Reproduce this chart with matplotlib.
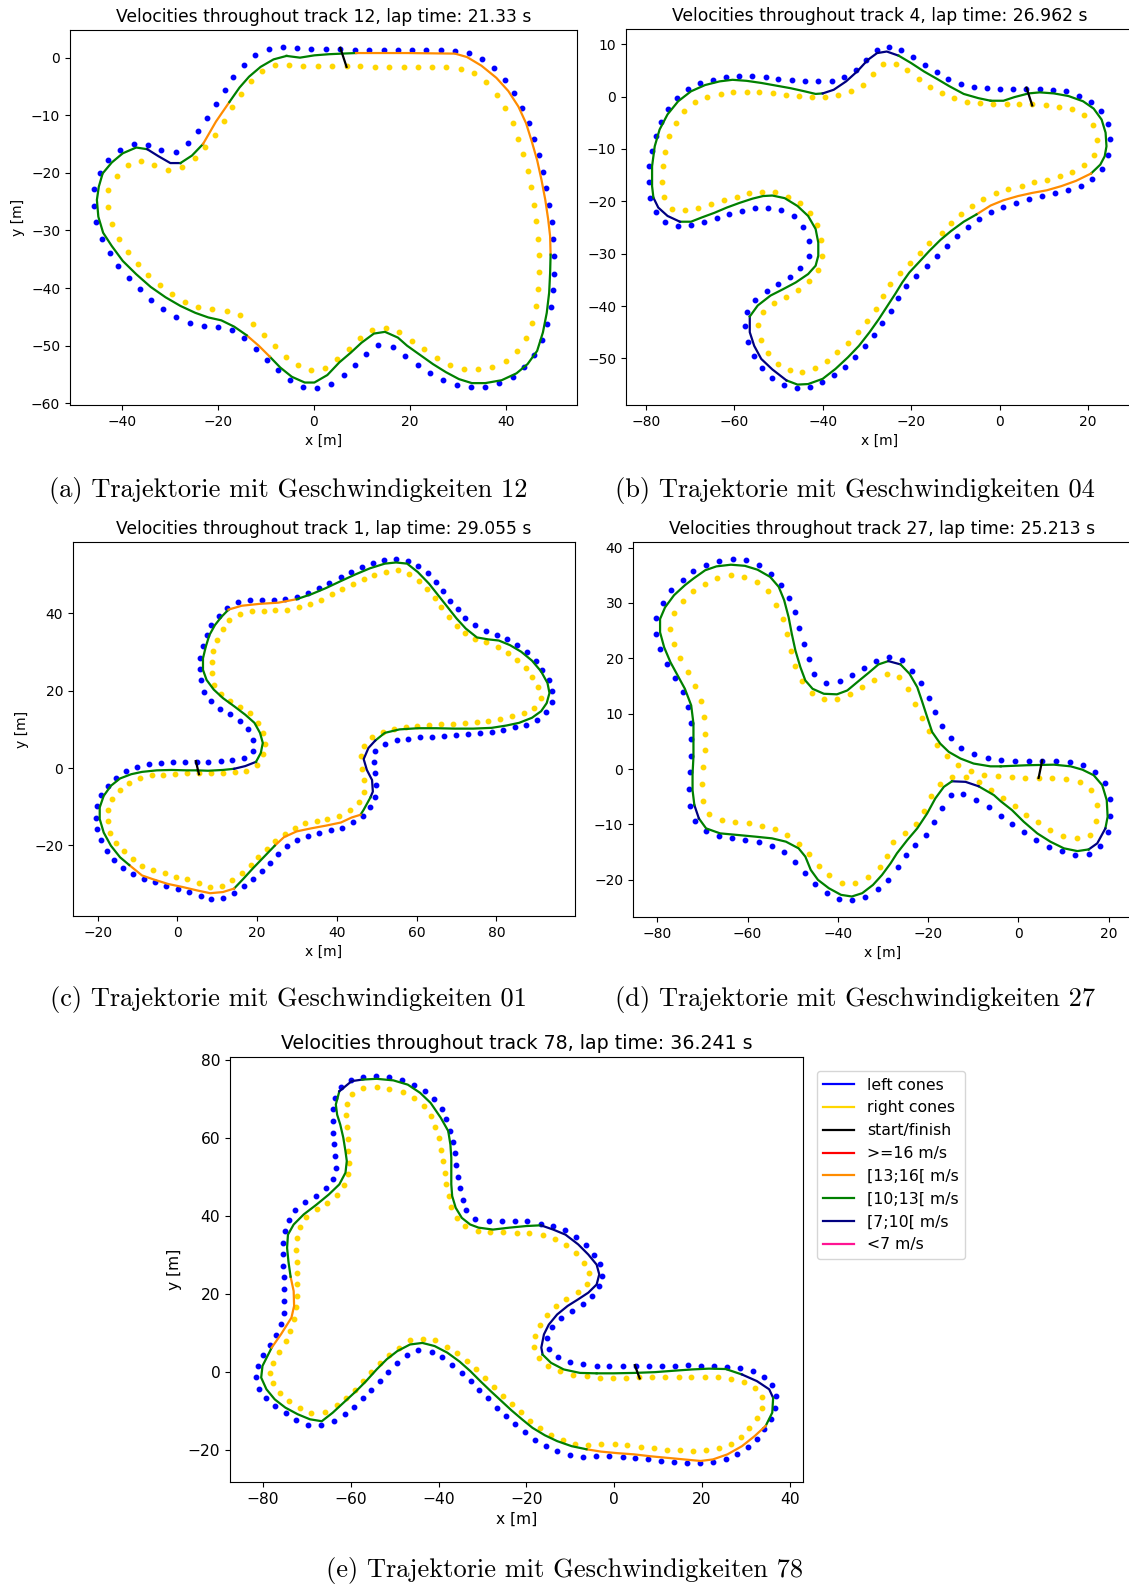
import matplotlib.pyplot as plt
from matplotlib.lines import Line2D

# ---------------- track 12 ----------------
t12_left = [(-9.4, 1.5), (-6.4, 1.8), (-3.5, 1.7), (-0.5, 1.5), (2.6, 1.5), (5.5, 1.5), (8.5, 1.4), (11.4, 1.4),
            (14.5, 1.4), (17.5, 1.3), (20.4, 1.3), (23.4, 1.3), (26.4, 1.3), (29.4, 1.2), (32.4, 0.8), (35.0, -0.3),
            (37.6, -1.8), (39.8, -3.9), (41.7, -6.2), (43.3, -8.7), (44.7, -11.4), (45.8, -14.1), (46.9, -16.9),
            (47.7, -19.8), (48.4, -22.7), (49.0, -25.6), (49.5, -28.5), (49.8, -31.5), (50.0, -34.5), (50.0, -37.5),
            (49.8, -40.4), (49.3, -43.3), (48.6, -46.2), (47.5, -49.0), (45.8, -51.6), (43.7, -53.7), (41.4, -55.4),
            (38.6, -56.5), (35.7, -57.1), (32.7, -57.1), (29.8, -56.8), (26.9, -56.0), (24.1, -54.8), (21.6, -53.4),
            (19.0, -51.8), (16.4, -50.3), (13.4, -49.9), (10.9, -51.4), (8.6, -53.3), (6.3, -55.1), (3.6, -56.7),
            (0.7, -57.4), (-2.2, -57.1), (-4.9, -55.9), (-7.5, -54.2), (-9.8, -52.5), (-12.1, -50.6), (-14.5, -48.7),
            (-17.1, -47.3), (-20.0, -46.8), (-22.9, -46.6), (-25.8, -46.0), (-28.7, -45.0), (-31.4, -43.6),
            (-33.9, -42.0), (-36.3, -40.2), (-38.6, -38.3), (-40.7, -36.1), (-42.5, -33.9), (-44.2, -31.4),
            (-45.3, -28.6), (-45.9, -25.8), (-45.9, -22.8), (-44.6, -20.1), (-42.8, -17.8), (-40.3, -16.0),
            (-37.5, -15.0), (-34.6, -15.2), (-31.8, -16.1), (-28.8, -16.4), (-26.2, -14.9), (-24.1, -12.7),
            (-22.2, -10.5), (-20.3, -8.1), (-18.6, -5.7), (-16.8, -3.4), (-14.6, -1.3), (-12.2, 0.5)]
t12_right = [(-8.1, -1.3), (-5.1, -1.2), (-2.2, -1.5), (0.9, -1.5), (3.8, -1.5), (6.8, -1.5), (9.7, -1.5), (12.8, -1.6),
             (15.7, -1.7), (18.7, -1.7), (21.7, -1.7), (24.7, -1.7), (27.6, -1.7), (30.6, -1.9), (33.4, -2.7),
             (35.9, -4.3), (38.1, -6.4), (39.8, -8.8), (41.4, -11.4), (42.5, -14.1), (43.6, -16.8), (44.5, -19.7),
             (45.2, -22.5), (45.9, -25.5), (46.2, -28.4), (46.7, -31.4), (46.9, -34.3), (46.9, -37.2), (46.7, -40.2),
             (46.2, -43.1), (45.4, -46.0), (44.2, -48.6), (42.4, -50.9), (40.0, -52.7), (37.1, -53.7), (34.2, -54.1),
             (31.2, -54.0), (28.3, -53.3), (25.6, -52.2), (23.0, -50.6), (20.5, -49.2), (17.8, -47.7), (15.1, -46.9),
             (12.2, -47.3), (9.7, -48.6), (7.3, -50.5), (4.8, -52.3), (2.3, -53.9), (-0.5, -54.3), (-3.3, -53.4),
             (-5.8, -51.9), (-8.0, -50.0), (-10.4, -48.1), (-12.7, -46.2), (-15.3, -44.6), (-18.2, -44.0),
             (-21.2, -43.7), (-24.1, -43.3), (-26.9, -42.4), (-29.6, -41.1), (-32.1, -39.5), (-34.5, -37.8),
             (-36.7, -35.9), (-38.8, -33.7), (-40.6, -31.4), (-42.0, -28.8), (-42.9, -25.9), (-42.9, -23.0),
             (-41.1, -20.5), (-38.8, -18.6), (-36.0, -17.9), (-33.2, -18.7), (-30.3, -19.5), (-27.5, -19.0),
             (-24.8, -17.5), (-22.6, -15.5), (-20.6, -13.4), (-18.8, -11.0), (-17.0, -8.6), (-15.2, -6.3),
             (-13.2, -4.1), (-10.9, -2.3)]
t12_line = [(-5.7, 0.3), (-2.9, 0.0), (0.1, 0.4), (3.2, 0.6), (5.9, 0.7), (8.8, 0.8), (19.4, 0.8), (29.4, 0.7),
            (31.9, 0.1), (34.9, -1.4), (38.0, -3.5), (40.5, -5.8), (42.6, -8.5), (44.2, -11.4), (45.4, -14.6),
            (46.5, -17.8), (47.4, -21.2), (48.2, -24.7), (48.8, -28.1), (49.2, -31.0), (49.3, -34.2), (49.2, -37.4),
            (49.0, -40.8), (48.5, -44.3), (47.7, -47.7), (46.5, -50.9), (44.5, -53.2), (42.2, -54.8), (39.1, -56.0),
            (35.7, -56.5), (32.9, -56.5), (30.2, -55.8), (27.5, -54.6), (24.8, -53.2), (22.1, -51.6), (19.4, -50.0),
            (17.5, -48.6), (14.8, -47.6), (12.5, -47.9), (9.9, -49.5), (7.7, -51.2), (5.3, -52.9), (2.8, -55.1),
            (0.1, -56.4), (-1.9, -56.4), (-4.6, -55.4), (-7.0, -53.8), (-9.2, -51.9), (-11.5, -50.0), (-14.0, -48.2),
            (-16.6, -46.7), (-19.3, -45.6), (-22.0, -45.1), (-24.7, -44.3), (-27.8, -43.1), (-30.9, -41.6),
            (-34.0, -39.8), (-37.0, -37.6), (-39.8, -35.3), (-42.1, -32.7), (-43.9, -30.4), (-44.9, -27.6),
            (-45.2, -24.7), (-44.8, -22.4), (-44.0, -20.1), (-42.1, -18.2), (-39.8, -16.6), (-37.0, -15.6),
            (-34.7, -15.9), (-32.4, -17.1), (-29.9, -18.3), (-27.8, -18.3), (-25.4, -17.0), (-23.1, -15.0),
            (-20.4, -11.1), (-17.6, -7.7), (-15.5, -5.2), (-13.5, -3.3), (-11.1, -1.6), (-8.4, -0.3)]
t12_speed = [("g", 5), ("o", 15), ("g", 27), ("o", 2), ("g", 19), ("n", 3), ("g", 2), ("o", 2), ("g", 5)]
t12_start = [(5.5, 1.7), (6.8, -1.6)]

# ---------------- track 4 ----------------
t4_left = [(-79.2, -16.3), (-79.2, -13.3), (-78.7, -10.4), (-77.8, -7.6), (-76.5, -4.9), (-75.1, -2.3), (-72.9, -0.2),
           (-70.4, 1.5), (-67.7, 2.5), (-64.8, 3.2), (-61.8, 3.7), (-58.9, 3.9), (-55.9, 3.9), (-52.9, 3.7),
           (-50.0, 3.4), (-47.0, 3.2), (-44.0, 3.0), (-41.0, 2.9), (-38.0, 3.0), (-35.1, 3.7), (-32.5, 5.0),
           (-30.2, 6.9), (-27.7, 8.8), (-25.0, 9.5), (-22.2, 8.9), (-19.5, 7.6), (-16.8, 6.0), (-14.2, 4.6),
           (-11.6, 3.4), (-8.7, 2.4), (-5.8, 1.8), (-2.9, 1.6), (0.2, 1.5), (3.1, 1.5), (6.1, 1.5), (9.1, 1.5),
           (12.0, 1.3), (15.0, 1.0), (17.9, 0.2), (20.7, -1.0), (23.0, -2.8), (24.5, -5.3), (25.0, -8.2),
           (24.6, -11.2), (23.2, -13.8), (21.0, -15.7), (18.4, -17.0), (15.5, -17.8), (12.5, -18.5), (9.6, -19.0),
           (6.7, -19.6), (3.8, -20.3), (0.9, -21.0), (-1.9, -22.0), (-4.6, -23.4), (-7.2, -25.0), (-9.6, -26.7),
           (-11.9, -28.5), (-14.2, -30.4), (-16.5, -32.3), (-18.8, -34.2), (-21.2, -36.1), (-22.9, -38.4),
           (-24.5, -40.9), (-26.5, -43.2), (-28.5, -45.5), (-30.5, -47.7), (-32.6, -49.7), (-34.9, -51.6),
           (-37.4, -53.1), (-40.1, -54.5), (-42.9, -55.4), (-45.9, -55.6), (-48.8, -55.0), (-51.5, -53.7),
           (-53.7, -51.8), (-55.5, -49.5), (-56.8, -46.8), (-57.6, -43.9), (-57.1, -41.1), (-55.3, -38.8),
           (-52.7, -37.1), (-50.0, -35.8), (-47.4, -34.4), (-45.1, -32.8), (-43.2, -30.5), (-43.2, -27.6),
           (-44.4, -24.9), (-46.6, -22.8), (-49.4, -21.7), (-52.3, -21.2), (-55.3, -21.3), (-58.2, -21.8),
           (-61.2, -22.5), (-64.0, -23.2), (-66.9, -23.9), (-69.8, -24.6), (-72.8, -24.8), (-75.6, -24.0),
           (-77.8, -22.0), (-79.0, -19.3)]
t4_right = [(-74.7, -7.6), (-73.2, -5.0), (-71.3, -2.7), (-68.9, -1.1), (-66.1, -0.1), (-63.1, 0.5), (-60.2, 0.9),
            (-57.2, 0.9), (-54.3, 0.8), (-51.3, 0.6), (-48.3, 0.3), (-45.4, 0.1), (-42.4, -0.1), (-39.5, -0.1),
            (-36.5, 0.3), (-33.7, 1.1), (-30.9, 2.3), (-28.7, 4.3), (-26.4, 6.2), (-23.5, 6.2), (-20.9, 5.0),
            (-18.2, 3.4), (-15.7, 1.9), (-13.1, 0.7), (-10.2, -0.3), (-7.4, -1.0), (-4.4, -1.3), (-1.4, -1.5),
            (1.6, -1.5), (4.5, -1.5), (7.4, -1.5), (10.5, -1.7), (13.4, -1.9), (16.4, -2.4), (19.1, -3.6),
            (21.2, -5.5), (22.0, -8.3), (21.3, -11.2), (19.2, -13.1), (16.5, -14.4), (13.7, -15.2), (10.8, -15.9),
            (7.9, -16.4), (5.0, -17.0), (2.0, -17.6), (-0.8, -18.4), (-3.7, -19.5), (-6.2, -20.9), (-8.6, -22.5),
            (-10.9, -24.2), (-13.1, -26.0), (-15.9, -27.9), (-18.1, -29.8), (-20.3, -31.7), (-22.4, -33.6),
            (-24.7, -35.7), (-26.4, -38.1), (-28.0, -40.6), (-30.0, -42.9), (-32.1, -45.0), (-34.3, -47.0),
            (-36.7, -48.7), (-39.1, -50.5), (-41.8, -51.9), (-44.6, -52.6), (-47.4, -52.3), (-50.0, -51.0),
            (-52.3, -49.0), (-53.9, -46.5), (-54.7, -43.7), (-53.5, -41.2), (-51.0, -39.5), (-48.3, -38.3),
            (-45.6, -36.9), (-43.2, -35.3), (-41.1, -33.1), (-40.2, -30.4), (-40.4, -27.4), (-41.2, -24.6),
            (-42.9, -22.2), (-45.2, -20.3), (-47.8, -19.1), (-50.8, -18.2), (-53.7, -18.2), (-56.6, -18.5),
            (-59.5, -19.1), (-62.4, -19.7), (-65.3, -20.6), (-68.1, -21.3), (-71.1, -21.7), (-74.0, -21.5),
            (-76.0, -19.2), (-76.3, -16.3), (-76.2, -13.3), (-75.6, -10.5)]
t4_line = [(-2.0, -0.8), (0.9, -0.8), (3.4, -0.1), (6.6, 0.6), (9.1, 0.8), (12.3, 0.6), (15.6, 0.1), (18.9, -0.9),
           (21.3, -2.3), (23.1, -4.4), (24.0, -6.9), (24.2, -9.5), (23.8, -11.4), (22.8, -13.0), (20.7, -14.7),
           (17.3, -16.1), (14.0, -17.1), (10.7, -17.9), (7.4, -18.4), (4.2, -19.0), (0.9, -19.8), (-2.0, -20.8),
           (-5.2, -22.5), (-8.1, -23.9), (-11.0, -25.7), (-13.4, -27.4), (-15.9, -29.5), (-18.3, -31.7),
           (-20.4, -33.6), (-22.0, -35.5), (-23.6, -37.7), (-25.3, -39.9), (-27.3, -42.5), (-29.4, -45.0),
           (-31.8, -47.6), (-34.3, -49.8), (-37.1, -52.0), (-40.0, -53.9), (-43.3, -54.9), (-45.7, -55.0),
           (-48.2, -54.2), (-51.4, -52.1), (-53.9, -50.1), (-55.5, -47.6), (-56.5, -45.0), (-56.5, -42.0),
           (-54.7, -39.9), (-51.8, -38.0), (-49.0, -36.8), (-46.1, -35.5), (-43.3, -33.9), (-41.6, -32.3),
           (-41.0, -30.4), (-41.0, -27.9), (-41.6, -25.3), (-43.3, -22.8), (-45.7, -20.9), (-48.6, -19.4),
           (-51.4, -18.9), (-53.5, -19.0), (-55.9, -19.5), (-58.8, -20.3), (-61.7, -21.2), (-64.5, -22.2),
           (-67.4, -23.1), (-69.8, -23.9), (-72.3, -23.9), (-75.1, -22.8), (-77.2, -21.2), (-78.3, -19.3),
           (-78.6, -17.1), (-78.6, -13.3), (-78.0, -9.5), (-76.9, -6.3), (-75.1, -3.4), (-72.7, -0.9), (-69.8, 1.0),
           (-66.6, 2.2), (-63.3, 2.9), (-60.4, 3.2), (-57.2, 3.0), (-53.9, 2.6), (-50.6, 2.1), (-47.3, 1.6),
           (-44.1, 1.0), (-41.6, 0.5), (-40.0, 0.6), (-37.5, 1.3), (-34.7, 2.9), (-32.2, 4.8), (-29.8, 7.0),
           (-27.7, 8.3), (-25.5, 8.6), (-22.8, 7.8), (-20.0, 6.4), (-17.1, 4.8), (-14.2, 3.4), (-11.4, 2.0),
           (-8.1, 0.5), (-4.8, -0.3)]
t4_speed = [("g", 14), ("o", 8), ("g", 18), ("n", 5), ("g", 21), ("n", 3), ("g", 17), ("n", 7), ("g", 7)]
t4_start = [(6.1, 1.7), (7.4, -1.7)]

# ---------------- track 1 ----------------
t1_left = [(-12.9, -0.9), (-10.1, 0.3), (-7.2, 1.1), (-4.2, 1.4), (-1.2, 1.5), (1.8, 1.5), (4.8, 1.5), (7.7, 1.5),
           (10.8, 1.7), (13.7, 2.1), (16.7, 2.6), (18.9, 4.4), (18.9, 7.2), (17.6, 10.0), (15.7, 12.2), (13.3, 13.9),
           (10.7, 15.4), (8.4, 17.3), (6.7, 19.7), (5.9, 22.7), (5.6, 25.7), (5.6, 28.6), (6.3, 31.5), (7.3, 34.3),
           (8.4, 37.1), (10.3, 39.4), (12.5, 41.5), (15.2, 42.9), (18.2, 43.4), (21.1, 43.6), (24.1, 43.6),
           (27.0, 43.7), (30.0, 44.3), (32.7, 45.3), (35.4, 46.5), (38.1, 48.0), (40.9, 49.5), (43.5, 50.8),
           (46.3, 52.0), (49.1, 53.0), (51.9, 53.8), (54.9, 54.2), (57.7, 53.7), (60.3, 52.3), (62.8, 50.4),
           (64.9, 48.2), (66.7, 45.8), (68.4, 43.3), (70.3, 41.1), (72.2, 38.8), (74.5, 36.9), (77.3, 35.5),
           (80.1, 34.3), (82.7, 33.3), (85.2, 31.8), (87.7, 30.0), (89.9, 27.8), (91.5, 25.4), (93.1, 22.8),
           (93.9, 20.0), (93.9, 17.1), (92.4, 14.5), (90.1, 12.5), (87.5, 11.2), (84.7, 10.5), (81.7, 9.9),
           (78.8, 9.4), (75.8, 9.1), (72.9, 8.8), (69.8, 8.6), (66.9, 8.4), (63.8, 8.1), (60.9, 8.0), (57.9, 7.6),
           (55.0, 7.2), (52.0, 6.3), (49.5, 4.5), (49.2, 1.5), (49.5, -1.3), (49.9, -4.4), (49.6, -7.4),
           (48.4, -10.1), (46.5, -12.4), (44.0, -14.1), (41.3, -15.4), (38.5, -16.1), (35.5, -16.7), (32.7, -17.5),
           (29.9, -18.6), (27.4, -20.3), (25.3, -22.3), (23.2, -24.5), (21.1, -26.6), (19.0, -28.7), (16.6, -30.6),
           (14.3, -32.4), (11.5, -33.6), (8.5, -33.9), (5.9, -33.1), (3.0, -32.2), (0.2, -31.3), (-2.8, -30.5),
           (-5.6, -29.6), (-8.5, -28.7), (-11.2, -27.5), (-13.7, -25.8), (-15.9, -23.7), (-17.7, -21.4),
           (-19.1, -18.6), (-20.3, -15.8), (-20.4, -12.9), (-20.1, -9.8), (-19.2, -7.0), (-17.5, -4.6),
           (-15.5, -2.5)]
t1_right = [(-9.4, -2.7), (-6.5, -1.8), (-3.6, -1.8), (-0.6, -1.5), (2.4, -1.4), (5.4, -1.4), (8.4, -1.4),
            (11.4, -1.3), (14.4, -1.1), (17.3, -0.9), (19.9, 0.9), (21.4, 3.5), (22.0, 6.3), (21.4, 9.1),
            (20.1, 11.7), (18.3, 14.2), (15.7, 15.8), (13.2, 17.3), (11.0, 19.1), (9.2, 21.5), (8.6, 24.5),
            (8.6, 27.4), (8.9, 30.4), (9.9, 33.2), (11.3, 35.9), (13.0, 38.2), (15.7, 39.8), (18.6, 40.6),
            (21.6, 40.7), (24.5, 40.9), (27.5, 40.9), (30.4, 41.8), (33.2, 42.5), (36.0, 43.6), (38.7, 45.0),
            (41.3, 46.3), (44.0, 47.7), (46.7, 49.0), (49.4, 50.0), (52.4, 50.7), (55.4, 51.2), (58.0, 50.1),
            (60.5, 48.4), (62.5, 46.3), (64.5, 43.9), (66.1, 41.6), (68.0, 39.1), (70.0, 36.8), (72.1, 34.9),
            (74.7, 33.5), (77.5, 32.5), (80.3, 31.2), (82.9, 29.8), (85.2, 28.0), (87.4, 25.9), (88.9, 23.5),
            (90.5, 21.0), (91.2, 18.1), (89.5, 15.6), (86.8, 14.2), (83.9, 13.4), (80.9, 12.6), (78.0, 12.2),
            (75.1, 11.8), (72.1, 11.7), (69.1, 11.5), (66.1, 11.4), (63.2, 11.2), (60.1, 11.0), (57.2, 10.6),
            (54.2, 10.0), (51.5, 9.3), (48.8, 8.0), (46.9, 5.8), (46.0, 3.0), (46.3, -0.2), (46.9, -3.2),
            (46.7, -6.2), (45.6, -8.8), (43.3, -10.8), (40.6, -12.4), (37.6, -13.3), (35.0, -13.6), (32.1, -14.2),
            (29.4, -15.5), (26.9, -17.1), (24.5, -19.0), (22.5, -20.9), (20.3, -23.1), (18.4, -25.2), (16.2, -27.1),
            (13.8, -29.1), (11.2, -30.6), (8.2, -30.9), (5.4, -29.8), (2.5, -28.8), (-0.4, -28.1), (-3.2, -27.3),
            (-6.2, -26.5), (-8.8, -25.3), (-11.2, -23.5), (-13.4, -21.6), (-15.4, -19.3), (-16.8, -16.7),
            (-17.3, -13.8), (-17.3, -10.9), (-16.4, -8.0), (-14.5, -5.8), (-12.1, -3.9)]
t1_line = [(5.0, -0.6), (7.7, -0.7), (11.4, -0.5), (14.2, -0.2), (17.0, 0.5), (19.7, 1.6), (20.9, 3.9), (21.4, 6.5),
           (20.7, 9.1), (19.3, 11.7), (17.0, 13.8), (14.2, 16.0), (11.4, 18.1), (9.1, 20.3), (7.3, 22.8), (6.4, 25.4),
           (6.4, 28.4), (7.1, 31.4), (8.0, 34.4), (9.4, 37.0), (11.0, 39.1), (12.8, 41.0), (16.1, 42.0), (20.7, 42.5),
           (25.3, 42.8), (29.9, 43.7), (33.6, 45.0), (37.3, 46.6), (41.0, 48.4), (44.6, 50.1), (48.3, 51.7),
           (52.0, 52.9), (54.8, 53.2), (57.6, 52.9), (60.3, 50.7), (63.1, 47.7), (65.4, 44.7), (67.7, 41.7),
           (70.0, 38.7), (72.3, 36.1), (75.1, 33.8), (77.9, 33.3), (80.6, 33.0), (83.4, 31.8), (86.2, 30.1),
           (88.9, 27.8), (91.2, 25.0), (92.8, 22.0), (93.3, 19.4), (92.6, 16.8), (91.2, 14.7), (88.9, 13.0),
           (85.7, 11.7), (82.5, 11.0), (78.8, 10.4), (74.2, 10.2), (69.6, 10.2), (64.9, 10.3), (60.3, 10.3),
           (55.7, 10.0), (52.0, 9.1), (49.6, 7.1), (47.9, 5.2), (46.7, 2.3), (47.5, -0.5), (48.8, -3.1), (49.0, -6.1),
           (48.4, -7.6), (46.7, -10.8), (45.9, -12.1), (43.7, -12.8), (41.0, -14.1), (37.3, -14.9), (33.6, -15.6),
           (29.9, -16.4), (26.7, -17.9), (24.4, -20.1), (21.6, -23.1), (18.8, -26.1), (16.5, -28.7), (14.2, -31.2),
           (11.4, -32.1), (8.2, -32.4), (5.0, -31.7), (1.3, -30.8), (-2.4, -30.0), (-6.1, -28.8), (-8.9, -27.8),
           (-12.1, -25.1), (-14.4, -23.1), (-16.7, -20.1), (-18.5, -16.7), (-19.5, -13.2), (-19.5, -10.2),
           (-18.5, -7.2), (-16.7, -4.6), (-14.4, -2.7), (-11.6, -1.6), (-8.9, -1.0), (-5.2, -0.6), (-1.5, -0.5),
           (2.2, -0.6)]
t1_speed = [("g", 3), ("n", 2), ("g", 16), ("o", 4), ("g", 36), ("n", 6), ("g", 2), ("o", 7), ("g", 4), ("o", 8),
            ("g", 14)]
t1_start = [(4.6, 1.8), (5.4, -1.6)]

# ---------------- track 27 ----------------
t27_left = [(-3.8, 1.6), (-0.8, 1.5), (2.3, 1.5), (5.3, 1.4), (8.3, 1.4), (11.4, 1.2), (14.3, 0.7), (17.1, -0.5),
            (19.3, -2.5), (20.4, -5.4), (20.4, -8.4), (19.8, -11.3), (18.2, -13.9), (15.6, -15.4), (12.6, -15.5),
            (9.6, -14.8), (6.8, -14.0), (4.0, -12.8), (1.2, -11.4), (-1.3, -9.9), (-3.9, -8.4), (-6.5, -6.9),
            (-9.3, -5.5), (-12.2, -4.5), (-15.0, -4.7), (-17.0, -7.0), (-18.6, -9.6), (-20.4, -11.9), (-22.8, -13.7),
            (-25.0, -15.5), (-26.7, -17.7), (-28.8, -20.0), (-31.2, -21.7), (-33.9, -23.1), (-36.8, -23.7),
            (-39.7, -23.5), (-42.5, -22.4), (-45.0, -20.7), (-47.2, -18.7), (-49.4, -16.7), (-51.9, -15.0),
            (-54.6, -13.9), (-57.5, -13.2), (-60.6, -12.8), (-63.5, -12.5), (-66.4, -12.0), (-69.3, -11.2),
            (-71.6, -9.3), (-72.8, -6.6), (-73.0, -3.6), (-72.8, -0.6), (-72.6, 2.4), (-72.5, 5.4), (-72.5, 8.4),
            (-73.1, 11.3), (-74.3, 14.0), (-76.1, 16.5), (-77.9, 19.0), (-79.4, 21.6), (-80.2, 24.4), (-80.2, 27.3),
            (-78.8, 30.0), (-76.9, 32.3), (-74.4, 34.2), (-72.0, 35.7), (-69.2, 36.9), (-66.3, 37.6), (-63.3, 37.9),
            (-60.4, 37.7), (-57.5, 36.8), (-54.8, 35.3), (-52.6, 33.3), (-50.8, 30.9), (-49.5, 28.3), (-48.5, 25.5),
            (-47.6, 22.6), (-46.5, 19.8), (-45.2, 17.1), (-42.6, 15.6), (-39.6, 15.9), (-36.9, 17.0), (-34.2, 18.3),
            (-31.5, 19.6), (-28.6, 20.3), (-25.7, 19.7), (-23.5, 17.8), (-21.6, 15.5), (-19.9, 12.9), (-18.5, 10.3),
            (-17.0, 7.8), (-15.0, 5.6), (-12.6, 3.8), (-9.8, 2.7), (-6.8, 2.0)]
t27_right = [(-1.4, -1.5), (1.5, -1.6), (4.5, -1.6), (7.5, -1.6), (10.5, -1.8), (13.6, -2.3), (16.2, -3.7),
             (17.4, -6.4), (17.3, -9.3), (15.8, -11.9), (13.0, -12.5), (10.0, -12.0), (7.1, -11.0), (4.4, -9.6),
             (1.8, -8.3), (-0.8, -6.7), (-3.4, -5.2), (-6.1, -3.7), (-8.8, -2.4), (-11.6, -1.5), (-14.7, -1.4),
             (-17.4, -2.7), (-19.3, -4.9), (-20.9, -7.5), (-22.6, -9.9), (-25.2, -11.5), (-27.7, -13.2),
             (-29.1, -15.6), (-30.7, -17.7), (-33.4, -19.4), (-36.1, -20.6), (-39.1, -20.6), (-41.9, -19.2),
             (-44.2, -17.5), (-46.4, -15.4), (-48.7, -13.5), (-51.3, -11.9), (-54.0, -10.9), (-56.9, -10.2),
             (-59.8, -9.8), (-62.8, -9.6), (-65.7, -9.1), (-68.5, -8.1), (-69.9, -5.7), (-70.0, -2.7), (-69.8, 0.3),
             (-69.4, 3.4), (-69.4, 6.4), (-69.7, 9.4), (-70.4, 12.3), (-71.6, 15.0), (-73.1, 17.5), (-74.9, 20.0),
             (-76.4, 22.5), (-77.3, 25.3), (-76.4, 28.1), (-74.4, 30.4), (-72.1, 32.2), (-69.5, 33.5), (-66.7, 34.5),
             (-63.7, 35.0), (-60.8, 34.7), (-58.0, 33.8), (-55.5, 32.1), (-53.6, 29.7), (-52.2, 27.1), (-51.3, 24.4),
             (-50.3, 21.4), (-49.4, 18.6), (-48.0, 15.9), (-45.8, 13.8), (-43.1, 12.7), (-40.2, 12.7), (-37.4, 13.6),
             (-34.6, 14.8), (-32.0, 16.1), (-29.2, 17.2), (-26.4, 16.6), (-24.4, 14.4), (-22.8, 11.8), (-21.3, 9.2),
             (-19.8, 6.8), (-18.1, 4.4), (-15.9, 2.3), (-13.3, 0.7), (-10.4, -0.3), (-7.5, -1.0), (-4.5, -1.3)]
t27_line = [(-3.9, 0.5), (2.0, 0.7), (7.9, 0.8), (11.6, 0.5), (14.2, -0.1), (16.7, -1.1), (18.6, -2.9), (19.6, -5.6),
            (19.8, -8.6), (19.3, -10.7), (17.5, -13.4), (15.6, -14.5), (13.1, -14.8), (10.1, -14.3), (7.1, -13.1),
            (4.2, -11.6), (1.2, -9.5), (-1.4, -7.4), (-3.9, -5.8), (-5.4, -4.7), (-8.8, -3.1), (-11.7, -2.3),
            (-14.7, -2.2), (-16.5, -3.2), (-18.4, -5.3), (-20.2, -8.0), (-22.4, -10.7), (-24.6, -12.8),
            (-26.9, -15.2), (-28.3, -17.0), (-30.2, -19.1), (-32.2, -20.9), (-34.6, -22.4), (-36.9, -23.0),
            (-39.3, -22.7), (-42.0, -21.5), (-44.4, -20.0), (-46.0, -18.2), (-47.2, -15.8), (-48.7, -14.3),
            (-51.5, -13.1), (-54.6, -12.5), (-58.2, -12.2), (-62.1, -11.9), (-66.1, -11.6), (-69.2, -10.7),
            (-70.8, -8.9), (-71.8, -6.5), (-72.2, -3.8), (-72.2, -0.8), (-72.0, 2.2), (-72.0, 5.2), (-72.0, 8.2),
            (-72.5, 11.5), (-73.9, 14.5), (-75.5, 16.9), (-77.1, 19.3), (-78.5, 22.0), (-79.4, 24.7), (-79.4, 27.1),
            (-78.3, 29.2), (-76.3, 31.4), (-73.9, 33.2), (-72.0, 34.4), (-69.4, 35.9), (-66.9, 36.6), (-63.7, 36.9),
            (-60.6, 36.7), (-57.8, 36.0), (-55.0, 34.7), (-53.1, 32.9), (-51.9, 30.5), (-50.9, 27.4), (-50.2, 24.4),
            (-49.4, 21.4), (-48.3, 18.4), (-47.2, 16.0), (-45.6, 14.5), (-43.1, 13.6), (-40.2, 13.5), (-37.9, 14.2),
            (-35.4, 15.9), (-33.0, 17.5), (-31.0, 18.9), (-28.8, 19.5), (-26.1, 18.9), (-24.1, 17.2), (-22.4, 14.8),
            (-21.4, 12.4), (-20.2, 9.4), (-19.1, 6.7), (-17.3, 4.6), (-15.4, 3.1), (-12.8, 1.9), (-9.9, 1.0),
            (-6.2, 0.5)]
t27_speed = [("g", 9), ("n", 2), ("g", 9), ("n", 2), ("g", 24), ("n", 1), ("g", 37), ("n", 1), ("g", 11)]
t27_start = [(5.3, 1.6), (4.5, -1.6)]

# ---------------- track 78 ----------------
t78_left = [(-7.1, 2.0), (-4.0, 1.6), (-1.1, 1.5), (2.0, 1.5), (4.9, 1.5), (7.9, 1.5), (10.8, 1.6), (13.8, 1.6),
            (16.7, 1.7), (19.8, 1.6), (22.7, 1.5), (25.6, 1.3), (28.6, 0.9), (31.5, 0.2), (34.1, -1.3), (36.0, -3.5),
            (36.9, -6.3), (36.6, -9.3), (35.7, -12.1), (34.2, -14.8), (32.5, -17.2), (30.5, -19.4), (28.0, -21.1),
            (25.4, -22.3), (22.5, -23.1), (19.6, -23.4), (16.6, -23.4), (13.6, -23.2), (10.7, -22.8), (7.8, -22.5),
            (4.8, -22.2), (1.9, -21.9), (-1.1, -21.7), (-4.1, -21.7), (-7.1, -21.8), (-10.0, -21.3), (-13.0, -20.4),
            (-15.6, -19.0), (-18.1, -17.5), (-20.3, -15.5), (-22.5, -13.4), (-24.6, -11.3), (-26.7, -9.2),
            (-28.7, -6.8), (-30.7, -4.6), (-32.6, -2.4), (-34.7, -0.3), (-36.9, 1.7), (-39.2, 3.7), (-41.6, 5.2),
            (-44.6, 5.6), (-47.2, 4.2), (-49.5, 2.2), (-51.5, 0.0), (-53.4, -2.3), (-55.3, -4.6), (-57.2, -6.8),
            (-59.2, -9.0), (-61.4, -10.9), (-63.9, -12.7), (-66.8, -13.7), (-69.7, -13.6), (-72.4, -12.4),
            (-74.8, -10.7), (-77.2, -8.8), (-79.3, -6.7), (-81.0, -4.3), (-81.6, -1.4), (-81.1, 1.5), (-79.9, 4.3),
            (-78.4, 6.8), (-77.0, 9.5), (-75.9, 12.3), (-75.3, 15.2), (-75.2, 18.2), (-75.1, 21.2), (-75.3, 24.2),
            (-75.4, 27.2), (-75.5, 30.2), (-75.4, 33.1), (-74.9, 36.1), (-74.1, 38.9), (-72.6, 41.4), (-70.4, 43.5),
            (-67.8, 45.2), (-65.6, 47.1), (-64.1, 49.5), (-63.4, 52.4), (-63.6, 55.4), (-63.8, 58.4), (-64.0, 61.4),
            (-64.1, 64.4), (-64.1, 67.4), (-63.6, 70.3), (-62.3, 73.0), (-60.0, 74.8), (-57.2, 75.7), (-54.2, 76.0),
            (-51.3, 75.7), (-48.3, 74.9), (-45.7, 73.6), (-43.2, 72.2), (-41.1, 69.9), (-39.3, 67.4), (-38.2, 64.8),
            (-37.3, 61.9), (-36.7, 59.0), (-36.2, 56.1), (-36.0, 53.1), (-35.5, 50.1), (-35.2, 47.2), (-34.5, 44.2),
            (-33.7, 41.4), (-31.6, 39.3), (-28.6, 38.8), (-25.6, 38.7), (-22.7, 38.7), (-19.8, 38.6), (-16.7, 38.0),
            (-13.9, 37.5), (-11.3, 36.4), (-8.7, 34.6), (-6.4, 32.6), (-4.7, 30.1), (-3.2, 27.6), (-2.7, 24.7),
            (-3.5, 21.9), (-5.0, 19.4), (-7.1, 17.4), (-9.7, 15.6), (-12.1, 13.7), (-14.1, 11.5), (-15.2, 8.7),
            (-14.9, 5.8), (-12.8, 3.7), (-10.0, 2.6)]
t78_right = [(-12.3, 0.2), (-9.3, -0.9), (-6.2, -1.2), (-3.3, -1.5), (-0.3, -1.5), (2.6, -1.5), (5.7, -1.4),
             (8.6, -1.4), (11.6, -1.3), (14.7, -1.3), (17.6, -1.3), (20.6, -1.3), (23.7, -1.4), (26.6, -1.8),
             (29.5, -2.6), (32.0, -4.2), (33.6, -6.4), (33.6, -9.2), (32.5, -11.9), (30.8, -14.5), (28.8, -16.8),
             (26.5, -18.5), (23.8, -19.7), (20.9, -20.2), (18.0, -20.4), (14.9, -20.2), (12.0, -20.0), (9.0, -19.7),
             (6.1, -19.2), (3.0, -18.9), (0.1, -18.6), (-2.9, -18.6), (-6.0, -18.7), (-9.0, -18.5), (-11.7, -17.5),
             (-14.5, -16.3), (-16.9, -14.4), (-19.2, -12.7), (-21.3, -10.4), (-23.3, -8.2), (-25.3, -6.1),
             (-27.3, -3.8), (-29.4, -1.5), (-31.5, 0.8), (-33.6, 2.8), (-35.8, 4.8), (-38.1, 6.4), (-40.8, 8.1),
             (-43.6, 8.5), (-46.4, 8.1), (-48.9, 6.2), (-51.2, 4.4), (-53.4, 2.3), (-55.3, 0.0), (-57.2, -2.3),
             (-59.1, -4.6), (-61.1, -6.8), (-63.2, -8.6), (-65.9, -10.4), (-69.0, -10.6), (-71.5, -9.3),
             (-74.0, -7.4), (-76.2, -5.4), (-77.6, -2.9), (-78.5, -0.3), (-77.6, 2.3), (-76.3, 5.0), (-74.8, 7.8),
             (-73.9, 10.5), (-72.9, 13.5), (-72.4, 16.5), (-72.2, 19.4), (-72.2, 22.4), (-72.3, 25.4), (-72.3, 28.3),
             (-72.4, 31.3), (-72.3, 34.3), (-71.6, 37.2), (-70.1, 39.8), (-67.6, 41.7), (-65.3, 43.4), (-63.1, 45.4),
             (-61.5, 47.9), (-60.6, 50.8), (-60.5, 53.7), (-60.6, 56.7), (-60.7, 59.7), (-60.9, 62.8), (-61.0, 65.8),
             (-60.8, 68.7), (-59.8, 71.4), (-57.1, 72.9), (-54.1, 73.1), (-51.2, 72.6), (-48.2, 71.7), (-45.6, 70.2),
             (-43.4, 68.1), (-41.8, 65.6), (-40.8, 62.9), (-39.9, 60.0), (-39.4, 57.0), (-39.0, 54.0), (-38.6, 51.1),
             (-38.2, 48.1), (-37.7, 45.1), (-37.1, 42.3), (-35.9, 39.5), (-33.9, 37.4), (-31.1, 36.1), (-28.2, 35.8),
             (-25.3, 35.8), (-22.2, 35.7), (-19.3, 35.6), (-16.3, 35.1), (-13.4, 34.0), (-10.9, 32.6), (-8.6, 30.5),
             (-6.8, 28.0), (-5.7, 25.3), (-6.1, 22.6), (-8.2, 20.4), (-10.9, 18.7), (-13.2, 16.8), (-15.3, 14.5),
             (-16.9, 11.9), (-18.0, 9.2), (-18.2, 6.3), (-17.1, 3.6), (-15.1, 1.6)]
t78_line = [(-4.0, -0.4), (-0.2, -0.4), (4.5, -0.3), (9.3, -0.1), (14.0, 0.3), (17.8, 0.6), (21.6, 0.8), (25.4, 0.7),
            (29.1, -0.7), (32.5, -2.4), (35.3, -4.5), (36.2, -6.7), (36.0, -10.5), (34.5, -13.9), (32.0, -16.5),
            (29.1, -19.1), (25.8, -21.2), (22.5, -22.5), (19.7, -22.9), (15.9, -22.5), (12.1, -22.1), (8.3, -21.7),
            (4.5, -21.2), (0.8, -20.9), (-3.0, -20.5), (-6.3, -19.9), (-9.7, -19.1), (-13.0, -17.8), (-15.8, -16.3),
            (-18.6, -14.4), (-21.0, -12.2), (-23.4, -9.9), (-25.7, -7.5), (-28.1, -5.0), (-30.5, -2.4), (-32.8, 0.2),
            (-35.2, 2.6), (-38.0, 4.9), (-40.9, 6.6), (-43.7, 7.4), (-46.5, 7.0), (-49.4, 5.3), (-51.8, 3.2),
            (-54.1, 0.6), (-56.5, -2.4), (-58.8, -5.0), (-61.7, -8.0), (-64.1, -10.5), (-66.6, -12.7),
            (-69.3, -12.2), (-72.1, -10.9), (-74.9, -9.2), (-77.3, -7.1), (-79.2, -4.5), (-80.4, -1.5), (-80.1, 1.5),
            (-78.0, 6.2), (-75.9, 9.6), (-73.5, 13.9), (-72.9, 16.9), (-73.0, 20.7), (-73.7, 24.4), (-74.2, 28.4),
            (-74.5, 31.8), (-74.3, 35.2), (-73.0, 37.8), (-70.7, 40.4), (-67.8, 42.9), (-65.0, 45.5), (-62.6, 48.1),
            (-61.2, 51.1), (-60.9, 54.1), (-61.2, 56.6), (-61.7, 60.1), (-62.4, 63.5), (-63.1, 66.0), (-63.4, 68.6),
            (-62.6, 72.0), (-59.8, 74.6), (-57.4, 75.0), (-54.1, 75.2), (-50.3, 74.8), (-47.0, 73.7), (-44.2, 71.6),
            (-41.8, 69.0), (-39.5, 65.2), (-37.8, 61.8), (-37.3, 58.3), (-37.1, 54.9), (-37.1, 51.5), (-37.1, 48.1),
            (-36.9, 45.1), (-36.1, 42.1), (-34.7, 39.5), (-32.8, 37.8), (-30.9, 37.0), (-27.6, 36.5), (-23.8, 37.0),
            (-20.1, 37.4), (-16.7, 37.6), (-13.9, 36.5), (-11.1, 35.2), (-8.2, 32.7), (-5.9, 30.1), (-4.0, 27.5),
            (-3.4, 25.0), (-4.0, 22.4), (-5.9, 20.3), (-8.2, 18.6), (-10.6, 16.9), (-13.0, 14.7), (-14.9, 12.1),
            (-16.0, 9.6), (-16.6, 6.2), (-16.3, 4.4), (-14.4, 2.3), (-11.5, 0.6), (-7.8, -0.3)]
t78_speed = [("g", 8), ("n", 3), ("g", 2), ("o", 12), ("g", 31), ("o", 5), ("g", 16), ("n", 2), ("g", 20),
             ("n", 15), ("g", 4)]
t78_start = [(4.7, 1.7), (5.8, -1.7)]

track_ids = [12, 4, 1, 27, 78]
lap_times = ["21.33", "26.962", "29.055", "25.213", "36.241"]
captions = ["(a) Trajektorie mit Geschwindigkeiten 12", "(b) Trajektorie mit Geschwindigkeiten 04",
            "(c) Trajektorie mit Geschwindigkeiten 01", "(d) Trajektorie mit Geschwindigkeiten 27",
            "(e) Trajektorie mit Geschwindigkeiten 78"]

speed_colors = {"r": "red", "o": "darkorange", "g": "green", "n": "navy", "p": "deeppink"}
legend_labels = ["left cones", "right cones", "start/finish", ">=16 m/s", "[13;16[ m/s", "[10;13[ m/s",
                 "[7;10[ m/s", "<7 m/s"]
legend_colors = ["blue", "gold", "black", "red", "darkorange", "green", "navy", "deeppink"]

W, H = 1129, 1588
fig = plt.figure(figsize=(W / 100, H / 100), dpi=100)


def box(l, t, r, b):
    # pixel box -> figure fraction
    return [l / W, 1 - b / H, (r - l) / W, (b - t) / H]


def draw(ax, left, right, line, speed, start, tid, lap, fs, tfs, ylabel=True):
    ax.plot(*zip(*left), "o", color="blue", ms=3.2)
    ax.plot(*zip(*right), "o", color="gold", ms=3.2)
    pts = line + line[:1]
    i = 0
    for c, n in speed:
        ax.plot(*zip(*pts[i:i + n + 1]), color=speed_colors[c], lw=1.6)
        i += n
    ax.plot(*zip(*start), color="black", lw=1.6)
    ax.set_title(f"Velocities throughout track {tid}, lap time: {lap} s", fontsize=tfs)
    ax.set_xlabel("x [m]", fontsize=fs)
    if ylabel:
        ax.set_ylabel("y [m]", fontsize=fs)
    ax.tick_params(labelsize=fs)


ax_a = fig.add_axes(box(70, 30, 577, 405))
draw(ax_a, t12_left, t12_right, t12_line, t12_speed, t12_start, track_ids[0], lap_times[0], 10, 12.3)
ax_a.set_xlim(-50.8, 54.8)
ax_a.set_ylim(-60.3, 4.8)

ax_b = fig.add_axes(box(626, 29, 1133, 405))
draw(ax_b, t4_left, t4_right, t4_line, t4_speed, t4_start, track_ids[1], lap_times[1], 10, 12.3, ylabel=False)
ax_b.set_xlim(-84.5, 30.2)
ax_b.set_ylim(-58.9, 12.9)

ax_c = fig.add_axes(box(73, 542, 575, 916))
draw(ax_c, t1_left, t1_right, t1_line, t1_speed, t1_start, track_ids[2], lap_times[2], 10, 12.3)
ax_c.set_xlim(-26.2, 99.7)
ax_c.set_ylim(-38.3, 58.5)

ax_d = fig.add_axes(box(633, 542, 1132, 917))
draw(ax_d, t27_left, t27_right, t27_line, t27_speed, t27_start, track_ids[3], lap_times[3], 10, 12.3,
     ylabel=False)
ax_d.set_xlim(-85.4, 25.2)
ax_d.set_ylim(-26.7, 41.0)

ax_e = fig.add_axes(box(230, 1057, 803, 1482))
draw(ax_e, t78_left, t78_right, t78_line, t78_speed, t78_start, track_ids[4], lap_times[4], 11.2, 13.7)
ax_e.set_xlim(-87.5, 43.0)
ax_e.set_ylim(-28.3, 80.8)

handles = [Line2D([], [], color=c, lw=1.6) for c in legend_colors]
ax_e.legend(handles, legend_labels, loc="upper left", bbox_to_anchor=(1.01, 0.985), fontsize=11.3)

cap_pos = [(288, 490), (855, 490), (288, 1000), (855, 1000), (565, 1571)]
for (cx, cy), txt in zip(cap_pos, captions):
    fig.text(cx / W, 1 - cy / H, txt, ha="center", va="center", fontsize=19, family="cmr10")

fig.savefig("out.png", dpi=100)
